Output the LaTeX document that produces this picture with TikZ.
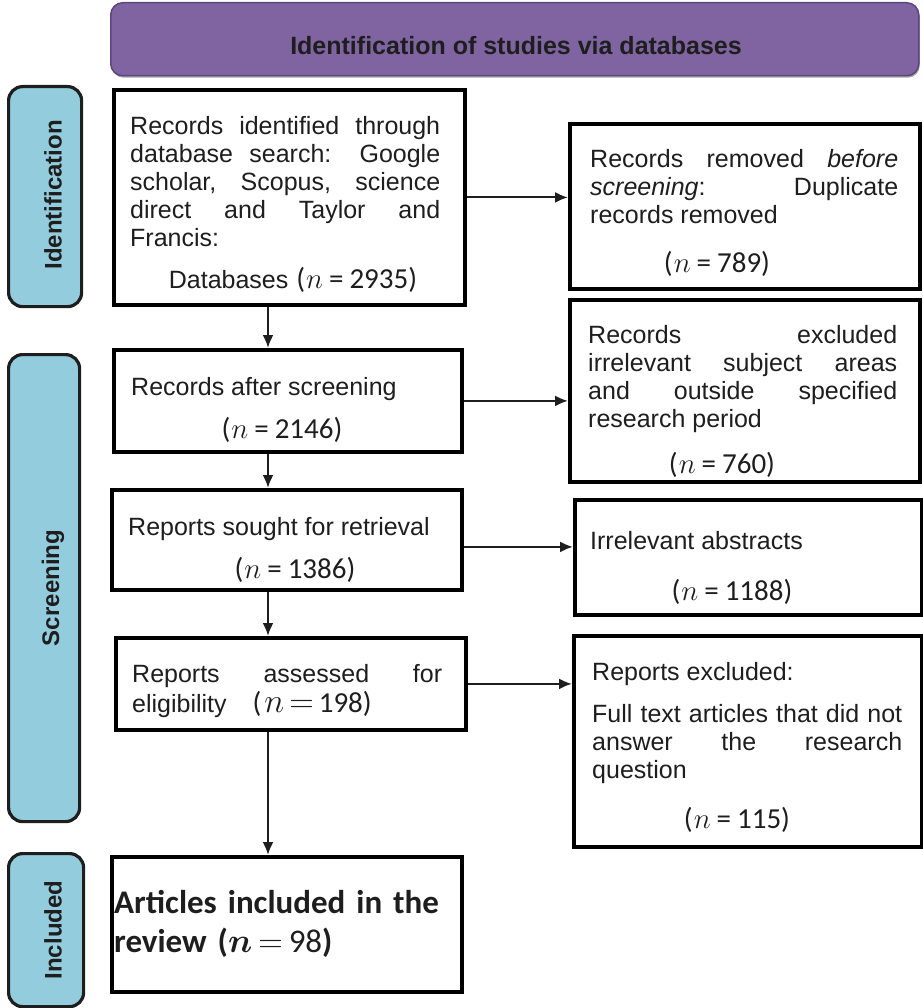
\RequirePackage{fix-cm}
\documentclass[tikz,border=0pt]{standalone}
\usepackage{fontspec}
\usepackage{graphicx}
\setmainfont{Liberation Sans}
\newfontfamily\numfont{Carlito}
\usetikzlibrary{arrows.meta,shadows}
\definecolor{bannerfill}{HTML}{8064A2}
\definecolor{bannerline}{HTML}{5B4680}
\definecolor{labelblue}{HTML}{93CDDD}
\definecolor{ink}{HTML}{1E1E1E}
\hyphenpenalty=10000
\exhyphenpenalty=10000
\tolerance=10000
\hbadness=10000
\newcommand{\nval}[1]{{\numfont\fontsize{29}{32}\selectfont(\kern1pt$n$\kern6pt=\kern6pt#1)}}
\begin{document}
\begin{tikzpicture}[x=1pt,y=-1pt,
  box/.style={draw=black,line width=3.8pt,fill=white,inner sep=0pt,anchor=north west,
    drop shadow={shadow xshift=1.5pt,shadow yshift=-1.5pt,opacity=0.3,fill=black}},
  phase/.style={draw=ink,line width=3.2pt,fill=labelblue,rounded corners=14pt,inner sep=0pt,anchor=north west},
  phasetxt/.style={rotate=90,inner sep=0pt,font=\bfseries\fontsize{24}{26}\selectfont,text=ink},
  bodytxt/.style={anchor=base west,inner sep=0pt,text width=#1,align=justify,font=\fontsize{25}{28}\selectfont,text=ink},
  bodytxt/.default=310pt,
  plaintxt/.style={anchor=base west,inner sep=0pt,font=\fontsize{25}{28}\selectfont,text=ink},
  numtxt/.style={anchor=base,inner sep=0pt,text=ink},
  arr/.style={draw=ink,line width=2.2pt,-{Latex[length=13pt,width=11pt]}}
]
\useasboundingbox (0,0) rectangle (922,1008);

% banner
\node[draw=bannerline,line width=1.5pt,fill=bannerfill,rounded corners=12pt,inner sep=0pt,anchor=north west,
  minimum width=808pt,minimum height=73pt,
  drop shadow={shadow xshift=1pt,shadow yshift=-2pt,opacity=0.35,fill=black}] (banner) at (110,2) {};
\node[anchor=base,inner sep=0pt,font=\bfseries\fontsize{25}{28}\selectfont,text=ink] (title) at (516,55) {Identification of studies via databases};

% phase labels
\node[phase,minimum width=73pt,minimum height=220pt] (ph1) at (7,85) {};
\node[phase,minimum width=71pt,minimum height=467pt] (ph2) at (7,353) {};
\node[phase,minimum width=75pt,minimum height=153pt] (ph3) at (7,852) {};
\node[phasetxt] (ph1t) at (53,195) {Identification};
\node[phasetxt] (ph2t) at (53,588) {Screening};
\node[phasetxt] (ph3t) at (53,930) {Included};

% main boxes
\node[box,minimum width=351pt,minimum height=215pt] (b1) at (112,88) {};
\node[box,minimum width=348pt,minimum height=102pt] (b2) at (112,348) {};
\node[box,minimum width=350pt,minimum height=100pt] (b3) at (110,488) {};
\node[box,minimum width=350pt,minimum height=92pt] (b4) at (114,636) {};
\node[box,minimum width=350pt,minimum height=135pt] (b5) at (110,855) {};

% right boxes
\node[box,minimum width=350pt,minimum height=165pt] (r1) at (568,122) {};
\node[box,minimum width=350pt,minimum height=182pt] (r2) at (568,298) {};
\node[box,minimum width=347pt,minimum height=115pt] (r3) at (573,498) {};
\node[box,minimum width=348pt,minimum height=211pt] (r4) at (572,634) {};

% texts main
\node[bodytxt] (b1t) at (130,135) {Records identified through\linebreak database search: Google\linebreak scholar, Scopus, science\linebreak direct and Taylor and\linebreak Francis:};
\node[numtxt] (b1n) at (293,288) {{\fontsize{25}{28}\selectfont Databases}\kern8pt\nval{2935}};
\node[plaintxt] (b2t) at (131,395) {Records after screening};
\node[numtxt] (b2n) at (282,438) {\nval{2146}};
\node[plaintxt] (b3t) at (128,535) {Reports sought for retrieval};
\node[numtxt] (b3n) at (295,578) {\nval{1386}};
\node[bodytxt] (b4t) at (132,682) {Reports\hfill assessed\hfill for};
\node[plaintxt] (b4u) at (132,712) {eligibility\hspace{26pt}{\numfont\fontsize{29}{30}\selectfont(\kern3pt{\fontsize{34}{34}\selectfont$n$}\kern5pt{\fontsize{34}{34}\selectfont$=$}\kern5pt198)}};
\node[anchor=base west,inner sep=0pt,text width=340pt,align=left,text=ink,
  font=\numfont\bfseries\fontsize{33}{39}\selectfont] (b5t) at (114,913) {Articles included in the\\review ({\fontsize{34}{36}\selectfont\boldmath$n$}\kern6pt{\fontsize{34}{36}\selectfont$=$}\kern6pt{\mdseries 98})};

% texts right
\node[bodytxt=308pt] (r1t) at (590,168) {Records removed \textit{before}\linebreak \textit{screening}: Duplicate\linebreak records removed};
\node[numtxt] (r1n) at (717,272) {\nval{789}};
\node[bodytxt=309pt] (r2t) at (588,343) {Records excluded\linebreak irrelevant subject areas\linebreak and outside specified\linebreak research period};
\node[numtxt] (r2n) at (722,473) {\nval{760}};
\node[plaintxt] (r3t) at (590,549) {Irrelevant abstracts};
\node[numtxt] (r3n) at (732,600) {\nval{1188}};
\node[plaintxt] (r4a) at (592,680) {Reports excluded:};
\node[bodytxt] (r4t) at (592,722) {Full text articles that did not\linebreak answer the research\linebreak question};
\node[numtxt] (r4n) at (737,828) {\nval{115}};

% connectors
\coordinate (vx) at (268,0);
\draw[arr] (b1.east) -- (b1.east -| r1.west);
\draw[arr] (b2.east) -- (b2.east -| r2.west);
\draw[arr] ([yshift=-7pt]b3.east) -- ([yshift=-7pt]b3.east -| r3.west);
\draw[arr] (b4.east) -- (b4.east -| r4.west);
\draw[arr] (b1.south -| vx) -- (b2.north -| vx);
\draw[arr] (b2.south -| vx) -- (b3.north -| vx);
\draw[arr] (b3.south -| vx) -- (b4.north -| vx);
\draw[arr] (b4.south -| vx) -- (b5.north -| vx);
\end{tikzpicture}
\end{document}
